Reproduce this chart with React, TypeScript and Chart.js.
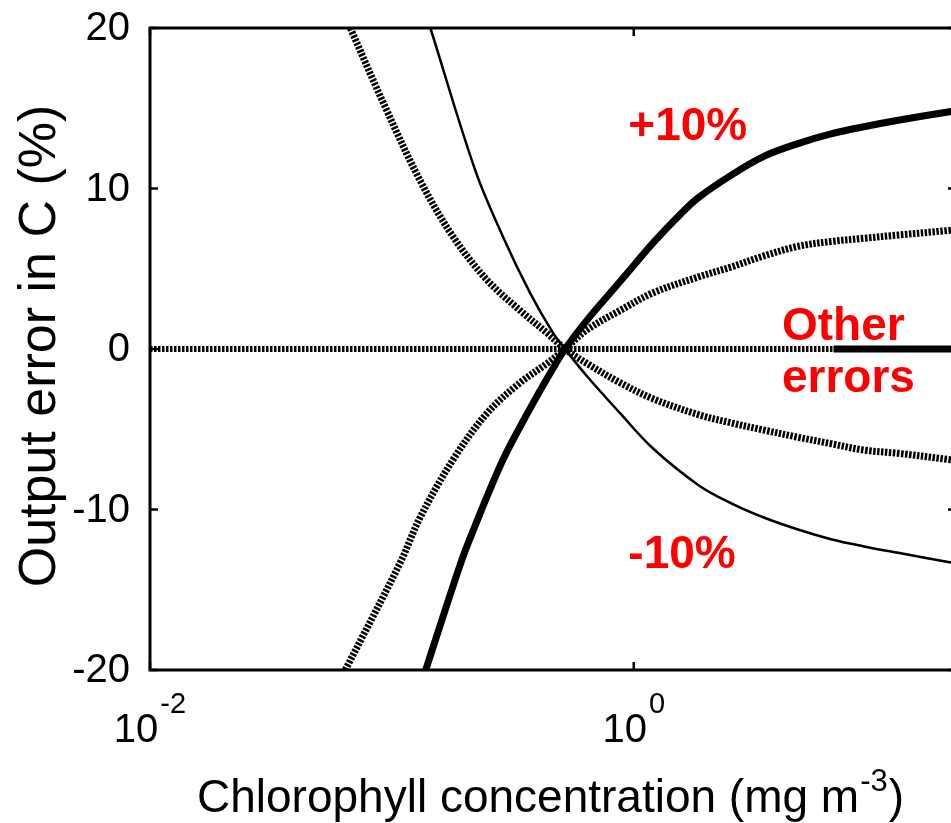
import React, { useEffect, useRef } from "react";
import { Chart, registerables } from "chart.js";

Chart.register(...registerables);

const FONT = '"Liberation Sans", Arial, Helvetica, sans-serif';

// Axis ranges & ticks
const X_MIN = 0.01;
const X_MAX = 21.5;
const Y_MIN = -20;
const Y_MAX = 20;
const Y_TICKS = [-20, -10, 0, 10, 20];
const Y_TICK_LABELS = ["-20", "-10", "0", "10", "20"];
const X_TICKS = [0.01, 1];
const X_TICK_EXP = ["-2", "0"];

// +10% curve (thick solid)
const plusX = [0.138, 0.192, 0.217, 0.288, 0.373, 0.464, 0.52, 0.641, 0.878, 1.0, 1.2, 1.585, 1.84, 2.512, 3.45, 4.78, 6.54, 8.96, 12.4, 20.5, 21.5];
const plusY = [-20, -13.4, -11.3, -6.9, -3.7, -1.2, 0, 1.8, 4.2, 5.2, 6.6, 8.5, 9.4, 10.8, 12.0, 12.8, 13.4, 13.85, 14.25, 14.8, 14.85];

// -10% curve (thin solid)
const minusX = [0.1443, 0.221, 0.288, 0.3726, 0.4638, 0.52, 0.641, 0.878, 1.202, 1.86, 2.52, 3.45, 4.78, 6.54, 8.96, 12.4, 20.5, 21.5];
const minusY = [20, 11.15, 7.0, 3.5, 1.0, 0, -1.7, -4.0, -6.2, -8.5, -9.6, -10.5, -11.25, -11.85, -12.3, -12.7, -13.3, -13.35];

// dotted curve decreasing
const dotDownX = [0.0673, 0.095, 0.1308, 0.179, 0.2474, 0.339, 0.438, 0.52, 0.641, 0.878, 1.202, 1.86, 2.52, 3.45, 4.78, 6.54, 8.96, 12.4, 20.5, 21.5];
const dotDownY = [20, 14.9, 10.5, 7.0, 4.3, 2.4, 1.0, 0, -0.9, -2.1, -3.1, -4.1, -4.6, -5.05, -5.5, -5.9, -6.3, -6.5, -6.9, -6.95];

// dotted curve increasing
const dotUpX = [0.0642, 0.1084, 0.1308, 0.179, 0.2474, 0.339, 0.438, 0.52, 0.641, 0.878, 1.202, 1.86, 2.52, 3.45, 4.78, 6.54, 8.96, 12.4, 20.5, 21.5];
const dotUpY = [-20, -13.3, -10.5, -6.9, -4.0, -2.1, -0.9, 0, 1.2, 2.4, 3.5, 4.5, 5.1, 5.8, 6.4, 6.7, 6.9, 7.1, 7.4, 7.45];

// "Other errors" zero line
const zeroX = [0.01, 21.5];
const zeroY = [0, 0];
const zeroSolidX = [6.7, 21.5];
const zeroSolidY = [0, 0];

// Red annotation labels (data coordinates)
const labelText = ["+10%", "-10%", "Other", "errors"];
const labelX = [0.95, 0.95, 4.1, 4.1];
const labelY = [13.0, -13.65, 0.56, -2.68];

const pts = (xs: number[], ys: number[]) => xs.map((x, i) => ({ x, y: ys[i] }));

const framePlugin = {
  id: "frame",
  afterDraw(chart: any) {
    const { ctx, chartArea: a, scales } = chart;
    const xs = scales.x;
    const ys = scales.y;
    ctx.save();
    const line = (x1: number, y1: number, x2: number, y2: number) => {
      ctx.beginPath();
      ctx.moveTo(x1, y1);
      ctx.lineTo(x2, y2);
      ctx.stroke();
    };
    // red labels
    ctx.fillStyle = "#ff0000";
    ctx.font = `bold 46px ${FONT}`;
    ctx.textAlign = "left";
    ctx.textBaseline = "alphabetic";
    labelText.forEach((t, i) => {
      ctx.fillText(t, xs.getPixelForValue(labelX[i]), ys.getPixelForValue(labelY[i]));
    });

    // frame
    ctx.strokeStyle = "#000";
    ctx.lineWidth = 3;
    ctx.strokeRect(a.left, a.top, a.right - a.left, a.bottom - a.top);
    ctx.lineWidth = 2.5;
    const tl = 8;
    Y_TICKS.forEach((v) => {
      const y = ys.getPixelForValue(v);
      line(a.left, y, a.left + tl, y);
      line(a.right, y, a.right - tl, y);
    });
    X_TICKS.forEach((v) => {
      const x = xs.getPixelForValue(v);
      line(x, a.bottom, x, a.bottom - tl);
      line(x, a.top, x, a.top + tl);
    });

    // y tick labels
    ctx.fillStyle = "#000";
    ctx.font = `40px ${FONT}`;
    ctx.textAlign = "right";
    ctx.textBaseline = "middle";
    Y_TICKS.forEach((v, i) => {
      ctx.fillText(Y_TICK_LABELS[i], a.left - 20, ys.getPixelForValue(v) + 1);
    });

    // x tick labels with superscripts
    ctx.textAlign = "left";
    ctx.textBaseline = "alphabetic";
    X_TICKS.forEach((v, i) => {
      const x = xs.getPixelForValue(v);
      ctx.font = `40px ${FONT}`;
      const w1 = ctx.measureText("10").width;
      ctx.font = `29px ${FONT}`;
      const w2 = ctx.measureText(X_TICK_EXP[i]).width;
      const start = x - (w1 + 2 + w2) / 2;
      const base = a.bottom + 72;
      ctx.font = `40px ${FONT}`;
      ctx.fillText("10", start, base);
      ctx.font = `29px ${FONT}`;
      ctx.fillText(X_TICK_EXP[i], start + w1 + 2, base - 29);
    });

    // x title
    const tBase = a.bottom + 142;
    let tx = a.left + 47;
    ctx.font = `46px ${FONT}`;
    const p1 = "Chlorophyll concentration (mg m";
    ctx.fillText(p1, tx, tBase);
    tx += ctx.measureText(p1).width + 1;
    ctx.font = `31px ${FONT}`;
    ctx.fillText("-3", tx, tBase - 21);
    tx += ctx.measureText("-3").width + 1;
    ctx.font = `46px ${FONT}`;
    ctx.fillText(")", tx, tBase);

    // y title
    ctx.save();
    ctx.translate(55, 346);
    ctx.rotate(-Math.PI / 2);
    ctx.textAlign = "center";
    ctx.font = `52px ${FONT}`;
    ctx.fillText("Output error in C (%)", 0, 0);
    ctx.restore();

    ctx.restore();
  },
};

export default function App() {
  const ref = useRef<HTMLCanvasElement>(null);
  useEffect(() => {
    if (!ref.current) return;
    Chart.defaults.font.family = FONT;
    const dotted = { borderWidth: 7, borderDash: [2.5, 1.5], borderCapStyle: "butt" };
    const smooth = { tension: 0.35 };
    const chart = new Chart(ref.current, {
      type: "line",
      data: {
        datasets: [
          { data: pts(zeroX, zeroY), borderColor: "#000", ...dotted, borderWidth: 6 },
          { data: pts(zeroSolidX, zeroSolidY), borderColor: "#000", borderWidth: 7 },
          { data: pts(dotDownX, dotDownY), borderColor: "#000", ...dotted, ...smooth },
          { data: pts(dotUpX, dotUpY), borderColor: "#000", ...dotted, ...smooth },
          { data: pts(minusX, minusY), borderColor: "#000", borderWidth: 2.5, ...smooth },
          { data: pts(plusX, plusY), borderColor: "#000", borderWidth: 7, ...smooth },
        ] as any,
      },
      options: {
        animation: false,
        responsive: false,
        devicePixelRatio: 1,
        elements: { point: { radius: 0 } },
        layout: { padding: { top: 28, right: 4, left: 0, bottom: 0 } },
        plugins: { legend: { display: false }, tooltip: { enabled: false } },
        scales: {
          x: {
            type: "logarithmic",
            min: X_MIN,
            max: X_MAX,
            grid: { display: false },
            border: { display: false },
            ticks: { display: false },
            afterBuildTicks: (s: any) => {
              s.ticks = X_TICKS.map((v) => ({ value: v }));
            },
            afterFit: (s: any) => {
              s.height = 153;
            },
          },
          y: {
            type: "linear",
            min: Y_MIN,
            max: Y_MAX,
            grid: { display: false, drawTicks: false },
            border: { display: false },
            ticks: { display: false },
            afterBuildTicks: (s: any) => {
              s.ticks = Y_TICKS.map((v) => ({ value: v }));
            },
            afterFit: (s: any) => {
              s.width = 150;
            },
          },
        },
      } as any,
      plugins: [framePlugin],
    });
    return () => chart.destroy();
  }, []);
  return (
    <div style={{ position: "absolute", left: 0, top: 0, width: 951, height: 823, overflow: "hidden", background: "#fff" }}>
      <canvas ref={ref} width={960} height={823} style={{ display: "block" }} />
    </div>
  );
}
